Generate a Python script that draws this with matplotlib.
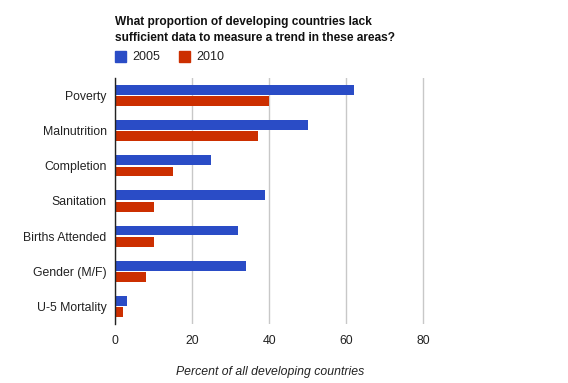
import matplotlib
matplotlib.use("Agg")
import matplotlib.pyplot as plt
import numpy as np

categories = ["Poverty", "Malnutrition", "Completion", "Sanitation",
              "Births Attended", "Gender (M/F)", "U-5 Mortality"]
values_2005 = [62, 50, 25, 39, 32, 34, 3]
values_2010 = [40, 37, 15, 10, 10, 8, 2]
series_labels = ["2005", "2010"]
xticks = [0, 20, 40, 60, 80]

plt.rcParams['font.family'] = ['Liberation Sans', 'DejaVu Sans']

blue = '#2a4cc6'
red = '#cc2f00'

fig = plt.figure(figsize=(5.68, 3.83), dpi=100)
W, H = 568, 383
left, right, top, bottom = 115, 454, 78, 324
ax = fig.add_axes([left / W, 1 - bottom / H, (right - left) / W, (bottom - top) / H])

y = np.arange(len(categories))
h = 0.28
off = 0.16
ax.barh(y - off, values_2005, height=h, color=blue, zorder=3)
ax.barh(y + off, values_2010, height=h, color=red, zorder=3)

ax.set_ylim(len(categories) - 0.5, -0.5)
ax.set_xlim(0, 88)
ax.set_yticks(y)
ax.set_yticklabels(categories, fontsize=8.8, color='#222222')
ax.set_xticks(xticks)
ax.set_xticklabels([str(v) for v in xticks], fontsize=8.8, color='#222222')
ax.tick_params(axis='both', length=0)
ax.tick_params(axis='y', pad=6)
ax.tick_params(axis='x', pad=8)
ax.grid(axis='x', color='#c8c8c8', linewidth=1, zorder=0)
for s in ['top', 'right', 'bottom']:
    ax.spines[s].set_visible(False)
ax.spines['left'].set_color('#222222')
ax.spines['left'].set_linewidth(1)
ax.spines['left'].set_zorder(4)

fig.text(115 / W, 1 - 16 / H,
         "What proportion of developing countries lack\nsufficient data to measure a trend in these areas?",
         fontsize=8.6, fontweight='bold', va='top', ha='left', linespacing=1.45, color='#111111')

# legend
from matplotlib.patches import Rectangle
for x0, col, lab in [(115, blue, series_labels[0]), (179, red, series_labels[1])]:
    fig.patches.append(Rectangle((x0 / W, 1 - 62 / H), 11 / W, 11 / H,
                                 transform=fig.transFigure, color=col))
    fig.text((x0 + 17) / W, 1 - 57 / H, lab, fontsize=9, va='center', ha='left', color='#222222')

fig.text(270 / W, 1 - 372 / H, "Percent of all developing countries",
         fontsize=8.8, style='italic', ha='center', va='center', color='#222222')

fig.savefig("out.png", dpi=100)
